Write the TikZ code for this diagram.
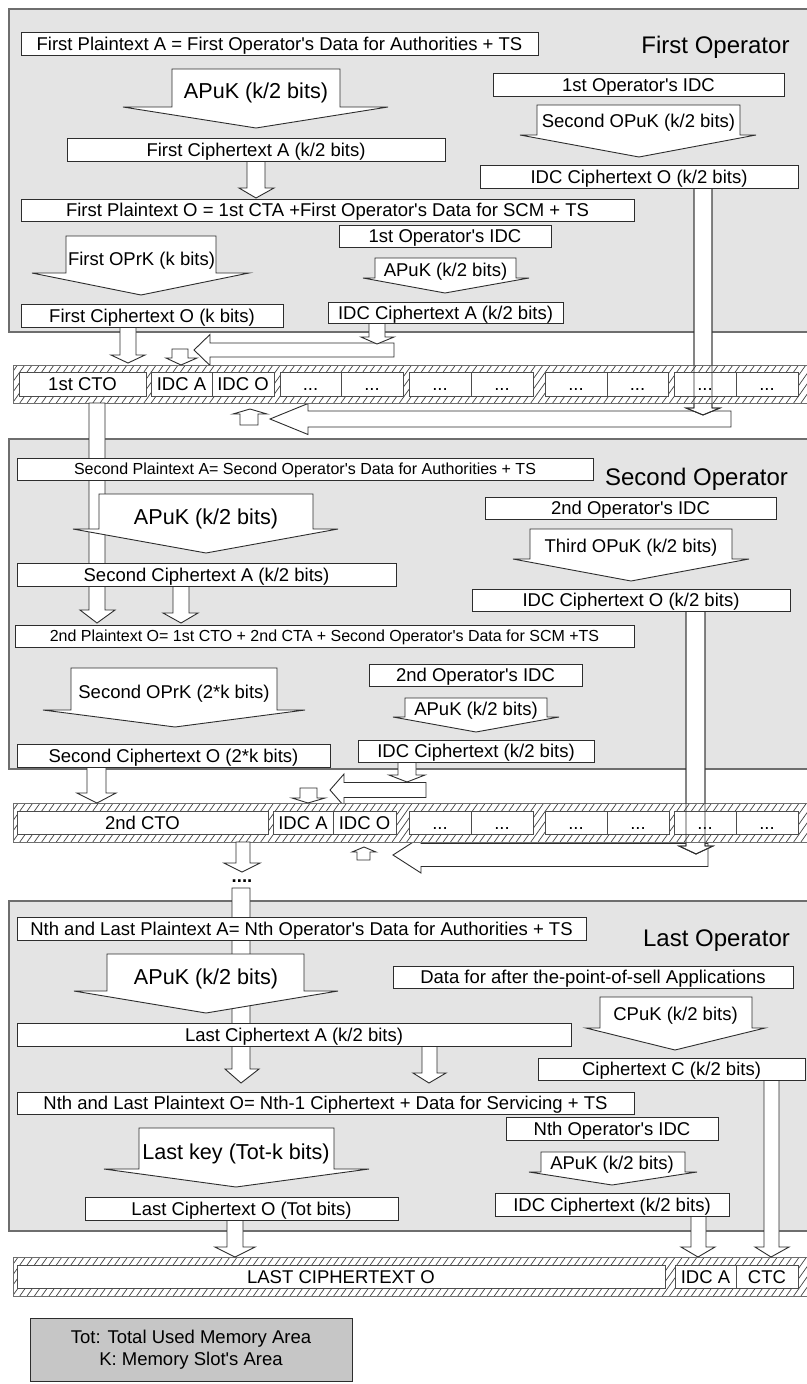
\documentclass[tikz,border=0pt]{standalone}
\usepackage{fontspec}
\setmainfont{Liberation Sans}

\definecolor{panelfill}{RGB}{228,228,228}
\definecolor{panelline}{RGB}{110,110,110}
\definecolor{ink}{RGB}{45,45,45}
\definecolor{legendfill}{RGB}{198,198,198}

% font sizes (1pt = 1 unit of the drawing)
\newcommand\fA{\fontsize{18.5}{21}\selectfont}
\newcommand\fB{\fontsize{16}{18}\selectfont}
\newcommand\fC{\fontsize{21.6}{24}\selectfont}
\newcommand\fD{\fontsize{24}{27}\selectfont}
\newcommand\fL{\fontsize{18.5}{22}\selectfont}
\newcommand\q{\textquotesingle}

\tikzset{
  panel/.style={fill=panelfill, draw=panelline, line width=1.1pt},
  box/.style={draw=ink, fill=white, line width=0.9pt, inner sep=0pt, font=\fA,
              text height=13.25pt, text depth=0pt},
  boxs/.style={box, font=\fB, text height=11.5pt},
  cell/.style={box, draw=ink!85},
  blk/.style={draw=ink, fill=white, line width=0.9pt, line join=miter},
  blkline/.style={draw=ink, line width=0.9pt, line join=miter},
  keyA/.style={inner sep=0pt, font=\fA, text height=13.25pt, text depth=0pt},
  keyB/.style={inner sep=0pt, font=\fC, text height=15.5pt, text depth=0pt},
  oplabel/.style={inner sep=0pt, font=\fD, text height=17.2pt, text depth=0pt},
  hatchln/.style={draw=ink!90, line width=0.7pt},
  barln/.style={draw=panelline, line width=0.9pt},
}

% rectangular box given by its corners: [style]{name}{x1}{y1}{x2}{y2}{text}
\newcommand\bx[7][box]{%
  \node[#1, minimum width={(#5-#3)*1pt}, minimum height={(#6-#4)*1pt}]
    (#2) at ({(#3+#5)/2},{(#4+#6)/2}) {#7};}

% downward block arrow: [style]{stem left}{stem right}{top}{wing y}{wing left}{wing right}{tip x}{tip y}
\newcommand\blkdown[9][blk]{%
  \draw[#1] (#2,#4) -- (#3,#4) -- (#3,#5) -- (#7,#5) -- (#8,#9) -- (#6,#5) -- (#2,#5) -- cycle;}

% leftward block arrow: {tip x}{tip y}{head base x}{head half}{body half}{right end}
\newcommand\blkleft[6]{%
  \draw[blk] (#1,#2) -- (#3,{#2-#4}) -- (#3,{#2-#5}) -- (#6,{#2-#5}) -- (#6,{#2+#5})
    -- (#3,{#2+#5}) -- (#3,{#2+#4}) -- cycle;}

% upward block arrow: {tip x}{tip y}{head left}{head right}{head base y}{stem left}{stem right}{bottom}
\newcommand\blkup[8]{%
  \draw[blk] (#1,#2) -- (#4,#5) -- (#7,#5) -- (#7,#8) -- (#6,#8) -- (#6,#5) -- (#3,#5) -- cycle;}

% hatched memory strip between two heights
\newcommand\hatchbar[2]{%
  \fill[white] (13,#1) rectangle (812,#2);
  \begin{scope}
    \clip (13,#1) rectangle (812,#2);
    \foreach \i in {0,...,116} \draw[hatchln] ({\i*7.3-24},#2) -- ++(29,-41);
  \end{scope}
  \draw[barln] (13,#1) rectangle (812,#2);}

\begin{document}
\begin{tikzpicture}[x=1pt,y=-1pt]
\useasboundingbox (0,0) rectangle (806,1384);
\fill[white] (0,0) rectangle (806,1384);

% operator panels
\draw[panel] (9,9) rectangle (812,332);
\draw[panel] (9,439) rectangle (812,769);
\draw[panel] (9,901) rectangle (812,1231);

% transfers along the memory strips
\blkleft{194}{350}{210}{15.5}{7}{394}
\blkleft{270}{419}{308}{15.5}{8}{731}
\blkleft{330}{790}{344}{16}{7.5}{426}
\blkleft{393}{855}{421}{18}{11.5}{708}

% IDC ciphertexts running through the strips (filled part)
\blkdown{694}{712}{188}{408}{686}{720}{703}{415}
\blkdown{686}{705}{611}{846}{679}{713}{696}{854}

% memory strips
\hatchbar{365}{403}
\hatchbar{803}{842}
\hatchbar{1257}{1296}

% first strip
\bx[cell]{m1a}{19}{372}{146}{396}{1st CTO}
\bx[cell]{m1b}{151}{372}{212}{396}{IDC A}
\bx[cell]{m1c}{212}{372}{274}{396}{IDC O}
\bx[cell]{m1d}{280}{372}{341}{396}{...}
\bx[cell]{m1e}{341}{372}{403}{396}{...}
\bx[cell]{m1f}{409}{372}{471}{396}{...}
\bx[cell]{m1g}{471}{372}{533}{396}{...}
\bx[cell]{m1h}{545}{372}{607}{396}{...}
\bx[cell]{m1i}{607}{372}{668}{396}{...}
\bx[cell]{m1j}{674}{372}{736}{396}{...}
\bx[cell]{m1k}{736}{372}{798}{396}{...}

% second strip
\bx[cell]{m2a}{17}{811}{268}{834}{2nd CTO}
\bx[cell]{m2b}{273}{811}{333}{834}{IDC A}
\bx[cell]{m2c}{333}{811}{396}{834}{IDC O}
\bx[cell]{m2d}{409}{811}{471}{834}{...}
\bx[cell]{m2e}{471}{811}{533}{834}{...}
\bx[cell]{m2f}{545}{811}{607}{834}{...}
\bx[cell]{m2g}{607}{811}{669}{834}{...}
\bx[cell]{m2h}{674}{811}{736}{834}{...}
\bx[cell]{m2i}{736}{811}{798}{834}{...}

% last strip
\bx[cell]{m3a}{17}{1265}{665}{1288}{LAST CIPHERTEXT O}
\bx[cell]{m3b}{675}{1265}{736}{1288}{IDC A}
\bx[cell]{m3c}{736}{1265}{798}{1288}{CTC}

% outlines of the IDC ciphertext arrows, seen over the strips
\blkdown[blkline]{694}{712}{188}{408}{686}{720}{703}{415}
\blkdown[blkline]{686}{705}{611}{846}{679}{713}{696}{854}

% long transfers and strip inputs
\blkdown{89}{105}{403}{610}{80}{115}{97}{623}
\blkdown{232}{250}{888}{1069}{225}{259}{241}{1083}
\blkdown{764}{779}{1080}{1247}{755}{789}{771}{1257}
\blkdown{120}{136}{327}{355}{111}{145}{128}{363}
\blkdown{369}{385}{323}{337}{361}{394}{377}{344}
\blkdown{172}{188}{349}{358}{166}{197}{181}{365}
\blkdown{87}{106}{767}{793}{77}{116}{97}{803}
\blkdown{398}{416}{762}{775}{389}{425}{407}{782}
\blkdown{300}{317}{788}{798}{292}{325}{308}{803}
\blkdown{236}{250}{842}{863}{224}{260}{242}{872}
\blkdown{227}{243}{1220}{1247}{215}{255}{235}{1257}
\blkdown{691}{706}{1216}{1247}{681}{715}{698}{1257}
\blkup{250}{409}{233}{267}{414}{240}{258}{425}
\blkup{364}{847}{352}{376}{852}{357}{370}{860}

\node[font=\fA\bfseries, inner sep=0pt, anchor=base] (more) at (242,882) {....};

% ---- first operator ----
\blkdown{172}{340}{69}{107}{123}{388}{256}{128}
\blkdown{247}{265}{161}{188}{239}{274}{256}{198}
\blkdown{66}{216}{236}{273}{32}{249}{141}{295}
\blkdown{375}{516}{258}{278}{363}{529}{445}{293}
\blkdown{537}{740}{105}{135}{520}{756}{639}{157}

\bx{p1A}{21}{32}{538}{55}{First Plaintext A = First Operator\q s Data for Authorities + TS}
\bx{p1idc}{493}{73}{784}{96}{1st Operator\q s IDC}
\bx{p1cA}{67}{138}{445}{161}{First Ciphertext A (k/2 bits)}
\bx{p1idcO}{480}{165}{798}{188}{IDC Ciphertext O (k/2 bits)}
\bx{p1O}{21}{199}{634}{221}{First Plaintext O = 1st CTA +First Operator\q s Data for SCM + TS}
\bx{p1idcb}{339}{225}{551}{247}{1st Operator\q s IDC}
\bx{p1cO}{21}{304}{283}{327}{First Ciphertext O (k bits)}
\bx{p1idcA}{328}{302}{563}{323}{IDC Ciphertext A (k/2 bits)}

\node[keyB] (k11) at (256,91) {APuK (k/2 bits)};
\node[keyA] (k12) at (638.5,120.5) {Second OPuK (k/2 bits)};
\node[keyA] (k13) at (141.5,258.5) {First OPrK (k bits)};
\node[keyA] (k14) at (445.5,270) {APuK (k/2 bits)};
\node[oplabel] (op1) at (715.5,44.7) {First Operator};

% ---- second operator ----
\blkdown{173}{189}{586}{613}{163}{198}{181}{623}
\blkdown{99}{313}{494}{529}{73}{338}{206}{553}
\blkdown{530}{732}{529}{559}{513}{749}{631}{581}
\blkdown{71}{277}{668}{710}{43}{305}{175}{727}
\blkdown{405}{547}{698}{717}{393}{559}{476}{732}

\bx[boxs]{p2A}{17}{458}{593}{480}{Second Plaintext A= Second Operator\q s Data for Authorities + TS}
\bx{p2idc}{485}{497}{776}{519}{2nd Operator\q s IDC}
\bx{p2cA}{17}{563}{396}{586}{Second Ciphertext A (k/2 bits)}
\bx{p2idcO}{472}{589}{790}{611}{IDC Ciphertext O (k/2 bits)}
\bx[boxs]{p2O}{15}{625}{634}{647}{2nd Plaintext O= 1st CTO + 2nd CTA + Second Operator\q s Data for SCM +TS}
\bx{p2idcb}{369}{664}{582}{686}{2nd Operator\q s IDC}
\bx{p2cO}{17}{744}{330}{767}{Second Ciphertext O (2*k bits)}
\bx{p2idcA}{358}{740}{594}{762}{IDC Ciphertext (k/2 bits)}

\node[keyB] (k21) at (206,516.5) {APuK (k/2 bits)};
\node[keyA] (k22) at (631,546) {Third OPuK (k/2 bits)};
\node[keyA] (k23) at (174,691.5) {Second OPrK (2*k bits)};
\node[keyA] (k24) at (476,709) {APuK (k/2 bits)};
\node[oplabel] (op2) at (696.5,476.5) {Second Operator};

% ---- last operator ----
\blkdown{107}{304}{954}{991}{74}{338}{206}{1013}
\blkdown{600}{752}{997}{1028}{586}{765}{675}{1050}
\blkdown{422}{437}{1046}{1073}{413}{446}{429}{1083}
\blkdown{139}{334}{1128}{1169}{104}{369}{236}{1187}
\blkdown{541}{685}{1152}{1172}{529}{697}{612}{1185}

\bx{p3A}{17}{917}{586}{940}{Nth and Last Plaintext A= Nth Operator\q s Data for Authorities + TS}
\bx{p3data}{393}{966}{793}{988}{Data for after the-point-of-sell Applications}
\bx{p3cA}{17}{1023}{571}{1046}{Last Ciphertext A (k/2 bits)}
\bx{p3cC}{538}{1058}{805}{1080}{Ciphertext C (k/2 bits)}
\bx{p3O}{17}{1092}{634}{1114}{Nth and Last Plaintext O= Nth-1 Ciphertext + Data for Servicing + TS}
\bx{p3idc}{506}{1117}{718}{1140}{Nth Operator\q s IDC}
\bx{p3cO}{85}{1197}{398}{1220}{Last Ciphertext O (Tot bits)}
\bx{p3idcA}{495}{1193}{729}{1216}{IDC Ciphertext (k/2 bits)}

\node[keyB] (k31) at (206,976.5) {APuK (k/2 bits)};
\node[keyA] (k32) at (675.5,1014) {CPuK (k/2 bits)};
\node[keyB] (k33) at (236,1151.5) {Last key (Tot-k bits)};
\node[keyA] (k34) at (612,1163) {APuK (k/2 bits)};
\node[oplabel] (op3) at (716.5,938) {Last Operator};

% legend
\node[draw=ink, fill=legendfill, line width=0.9pt, minimum width=322pt, minimum height=63pt,
      align=center, font=\fL, inner sep=0pt] (legend) at (191,1349.5)
      {Tot: Total Used Memory Area\\K: Memory Slot\q s Area};
\end{tikzpicture}
\end{document}
